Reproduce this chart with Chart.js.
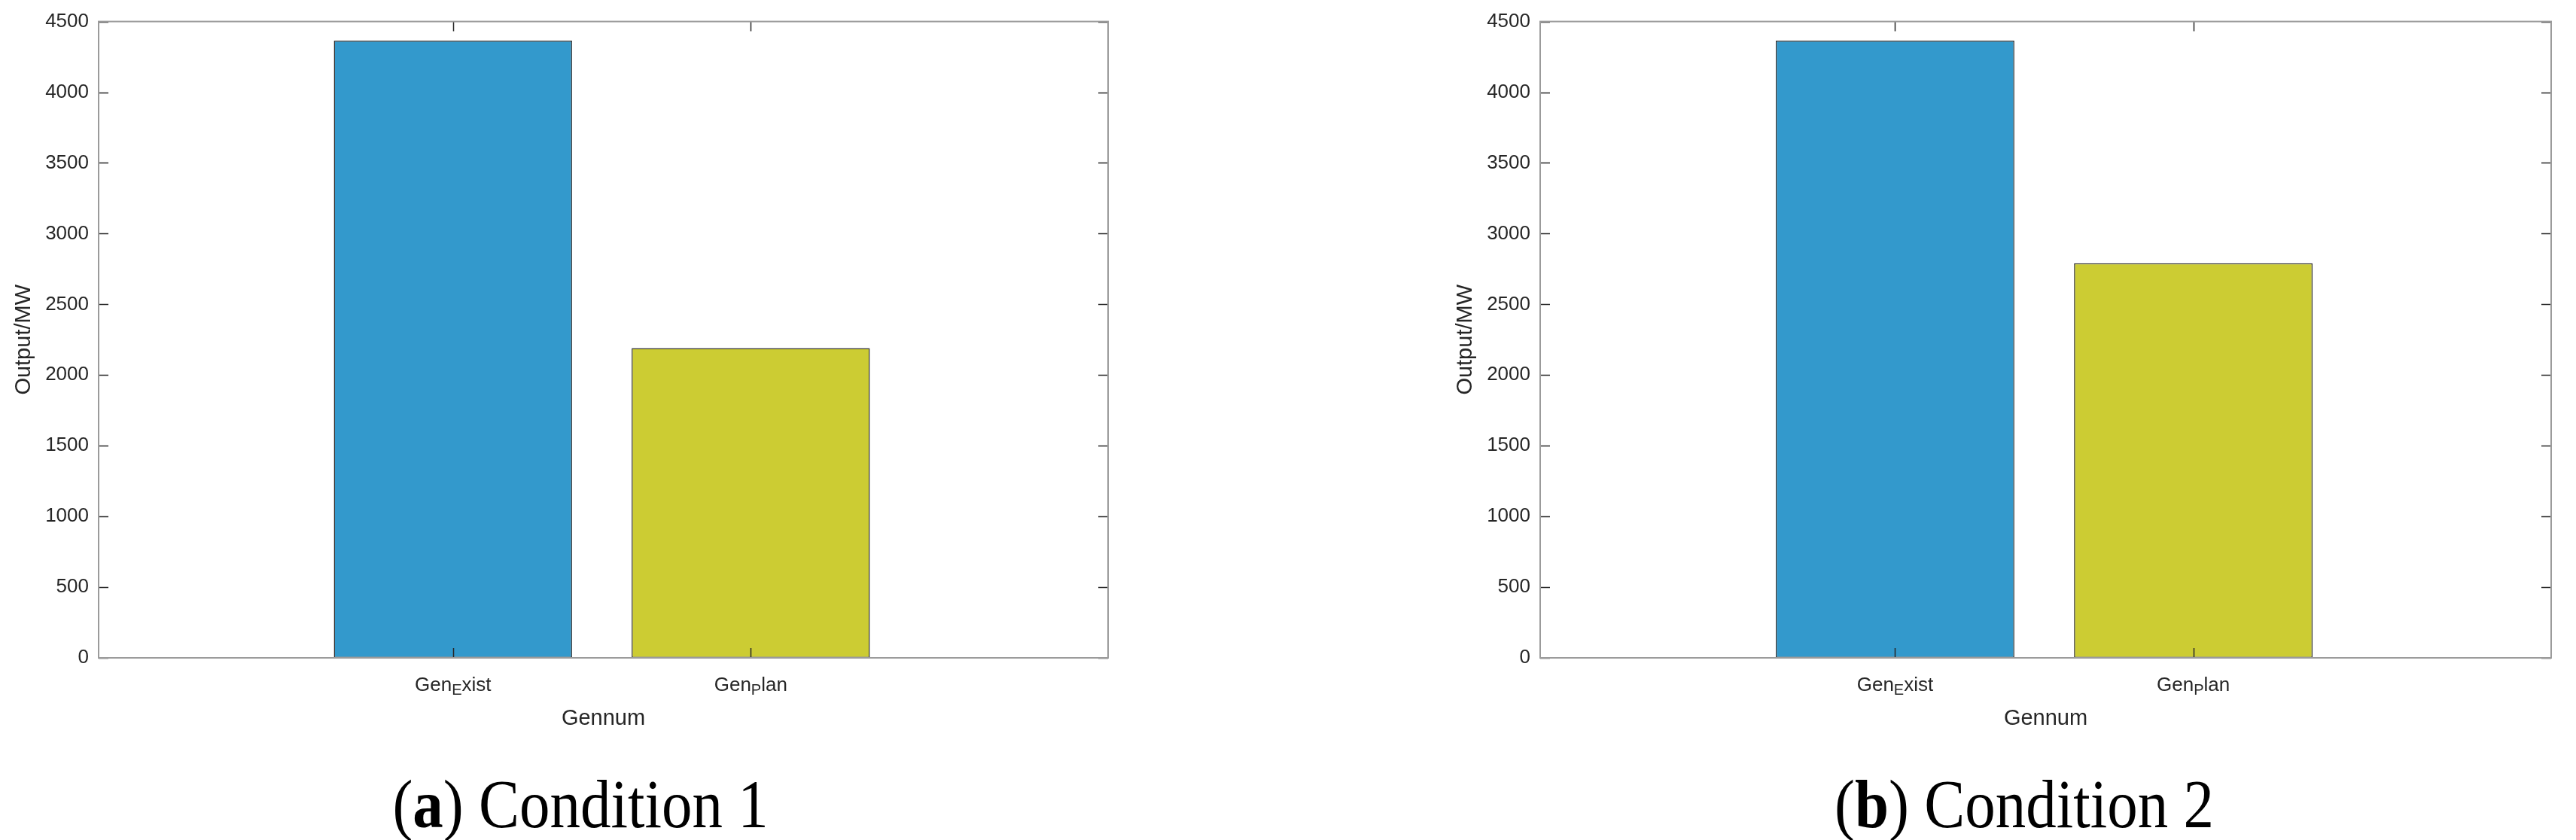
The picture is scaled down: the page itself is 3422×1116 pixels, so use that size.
<!DOCTYPE html>
<html>
<head>
<meta charset="utf-8">
<script src="https://cdn.jsdelivr.net/npm/chart.js@4.4.0/dist/chart.umd.min.js"></script>
<style>
html,body{margin:0;padding:0;background:#fff;overflow:hidden;width:3422px;height:1116px;}
canvas{position:absolute;top:0;}
#c1{left:0;}
#c2{left:1915px;}
.cap{position:absolute;top:1022px;font-family:"Liberation Serif","Times New Roman",serif;font-size:92px;line-height:92px;white-space:nowrap;color:#000;transform:translateX(-50%) scaleX(0.88);}
</style>
</head>
<body>
<canvas id="c1" width="1600" height="1000"></canvas>
<canvas id="c2" width="1507" height="1000"></canvas>
<div class="cap" id="capA" style="left:771px"></div>
<div class="cap" id="capB" style="left:2689px"></div>
<script>
// ---- data ----
const categories = ['Gen_Exist', 'Gen_Plan'];
const condition1 = [4365, 2190];
const condition2 = [4365, 2790];
const yMin = 0, yMax = 4500, yStep = 500;
const xTitle = 'Gennum';
const yTitle = 'Output/MW';
const captionLetters = ['a', 'b'];
const captionTexts = ['Condition 1', 'Condition 2'];
const barColors = ['#3399CC', '#CCCC33'];

Chart.defaults.font.family = '"Liberation Sans", Arial, Helvetica, sans-serif';
Chart.defaults.color = '#262626';

function drawTexLabel(ctx, label, cx, baseline) {
  const m = label.match(/^(.*?)_(\{[^}]*\}|.)(.*)$/);
  const mainFont = '26px "Liberation Sans", Arial, sans-serif';
  const subFont = '20px "Liberation Sans", Arial, sans-serif';
  let segs;
  if (m) {
    const sub = m[2].replace(/[{}]/g, '');
    segs = [{t: m[1], f: mainFont, dy: 0}, {t: sub, f: subFont, dy: 5}, {t: m[3], f: mainFont, dy: 0}];
  } else {
    segs = [{t: label, f: mainFont, dy: 0}];
  }
  let total = 0;
  segs.forEach(s => { ctx.font = s.f; s.w = ctx.measureText(s.t).width; total += s.w; });
  let x = cx - total / 2;
  ctx.textAlign = 'left';
  ctx.textBaseline = 'alphabetic';
  segs.forEach(s => { ctx.font = s.f; ctx.fillText(s.t, x, baseline + s.dy); x += s.w; });
}

const matlabAxes = {
  id: 'matlabAxes',
  afterDatasetsDraw(chart) {
    const {ctx, chartArea, scales} = chart;
    const {left, right, top, bottom} = chartArea;
    const x = scales.x, y = scales.y;
    ctx.save();
    // inward ticks
    ctx.strokeStyle = '#262626';
    ctx.lineWidth = 1.5;
    ctx.beginPath();
    y.ticks.forEach(t => {
      const py = Math.round(y.getPixelForValue(t.value)) + 0.5;
      ctx.moveTo(left, py); ctx.lineTo(left + 13, py);
      ctx.moveTo(right, py); ctx.lineTo(right - 13, py);
    });
    x.ticks.forEach(t => {
      const px = Math.round(x.getPixelForValue(t.value)) + 0.5;
      ctx.moveTo(px, bottom); ctx.lineTo(px, bottom - 13);
      ctx.moveTo(px, top); ctx.lineTo(px, top + 13);
    });
    ctx.stroke();
    // box
    ctx.strokeStyle = '#9b9b9b';
    ctx.lineWidth = 2;
    ctx.strokeRect(left, top, right - left, bottom - top);
    // x tick labels with subscripts
    ctx.fillStyle = '#262626';
    x.ticks.forEach((t, i) => {
      drawTexLabel(ctx, categories[i], x.getPixelForValue(t.value), bottom + 44);
    });
    ctx.restore();
  }
};

function makeChart(id, values, padRight) {
  return new Chart(document.getElementById(id), {
    type: 'bar',
    data: {
      datasets: [{
        data: categories.map((c, i) => ({x: i + 1, y: values[i]})),
        backgroundColor: barColors,
        borderColor: '#333333',
        borderWidth: 1.5,
        borderSkipped: false,
        barPercentage: 0.8,
        categoryPercentage: 1.0
      }]
    },
    options: {
      responsive: false,
      animation: false,
      devicePixelRatio: 1,
      layout: {padding: {left: 0, top: 26, right: padRight, bottom: 0}},
      plugins: {legend: {display: false}, tooltip: {enabled: false}},
      scales: {
        x: {
          type: 'linear',
          offset: false,
          min: -0.19,
          max: 3.2,
          grid: {display: false, drawTicks: false, offset: false},
          border: {display: false},
          ticks: {display: false},
          afterBuildTicks: s => { s.ticks = categories.map((c, i) => ({value: i + 1})); },
          afterFit: s => { s.height = 126; },
          title: {display: true, text: xTitle, font: {size: 29}, color: '#262626', padding: {top: 0, bottom: 28}}
        },
        y: {
          min: yMin,
          max: yMax,
          grid: {display: false, drawTicks: false},
          border: {display: false},
          ticks: {stepSize: yStep, padding: 13, font: {size: 26}, color: '#262626', callback: v => String(v)},
          afterFit: s => { s.width = 131; },
          title: {display: true, text: yTitle, font: {size: 29}, color: '#262626', padding: {top: 15, bottom: 0}}
        }
      }
    },
    plugins: [matlabAxes]
  });
}

makeChart('c1', condition1, 128);
makeChart('c2', condition2, 33);

['capA', 'capB'].forEach((id, i) => {
  const el = document.getElementById(id);
  el.textContent = '';
  el.appendChild(document.createTextNode('('));
  const b = document.createElement('b');
  b.textContent = captionLetters[i];
  el.appendChild(b);
  el.appendChild(document.createTextNode(') ' + captionTexts[i]));
});
</script>
</body>
</html>
